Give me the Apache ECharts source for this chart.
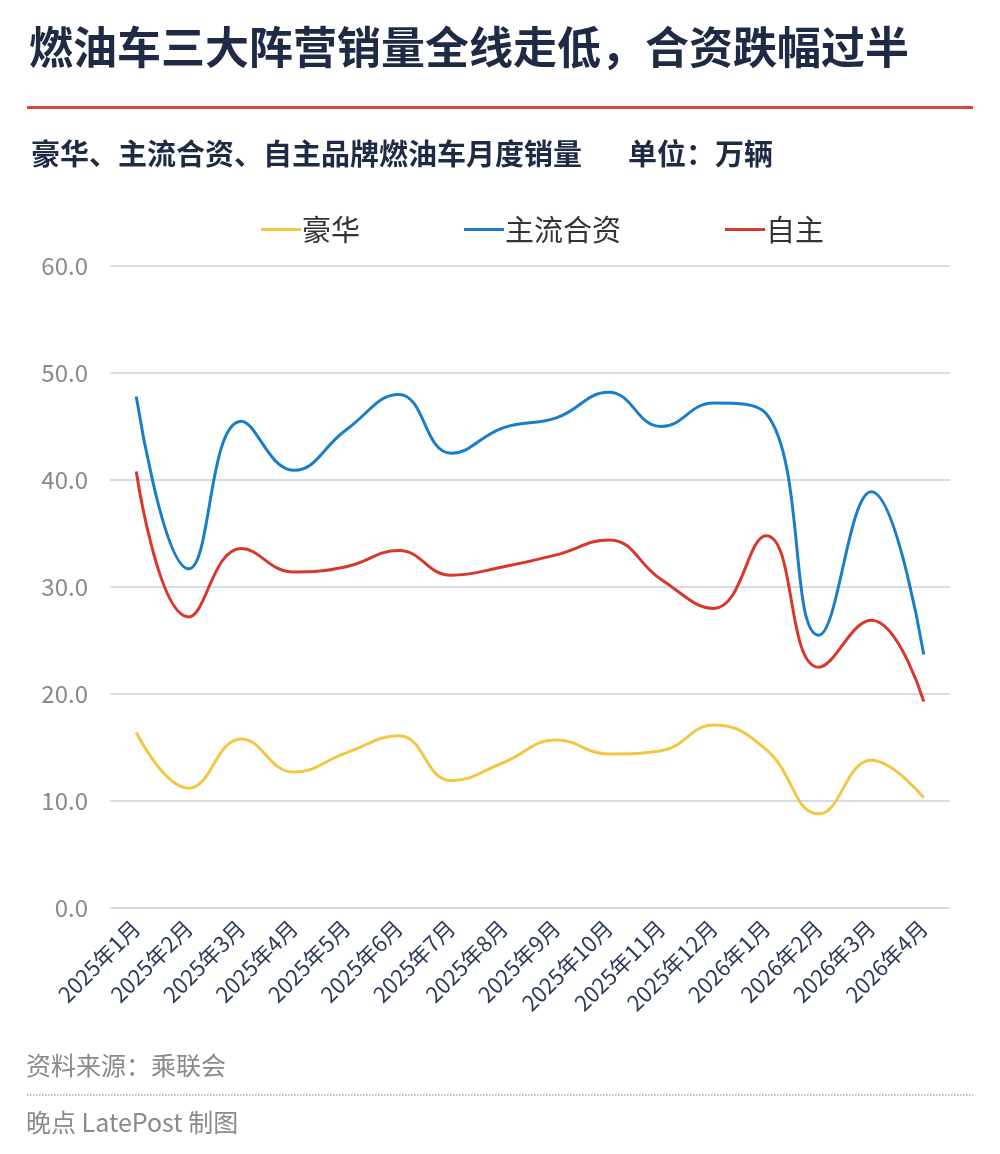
<!DOCTYPE html>
<html>
<head>
<meta charset="utf-8">
<script src="https://cdn.jsdelivr.net/npm/echarts@6/dist/echarts.min.js"></script>
<style>
  html, body { margin: 0; padding: 0; background: #fff; }
  #chart { width: 1000px; height: 1154px; }
</style>
</head>
<body>
<div id="chart"></div>
<script>
// 月份
const months = [
    '2025年1月', '2025年2月', '2025年3月', '2025年4月', '2025年5月', '2025年6月',
    '2025年7月', '2025年8月', '2025年9月', '2025年10月', '2025年11月', '2025年12月',
    '2026年1月', '2026年2月', '2026年3月', '2026年4月'
];

// 销量，单位：万辆
const luxury = [16.4, 11.2, 15.8, 12.7, 14.5, 16.1, 11.9, 13.6, 15.7, 14.4, 14.7, 17.1, 14.8, 8.8, 13.8, 10.3];
const jointVenture = [47.8, 31.7, 45.5, 40.9, 44.7, 48.0, 42.5, 44.9, 45.8, 48.2, 45.0, 47.2, 46.2, 25.5, 38.9, 23.7];
const domestic = [40.8, 27.2, 33.6, 31.4, 31.9, 33.4, 31.1, 31.9, 33.0, 34.4, 30.7, 28.0, 34.8, 22.5, 26.9, 19.3];

const FONT = '"Noto Sans CJK SC", "Noto Sans", sans-serif';
const NAVY = '#1f2a44';

const chart = echarts.init(document.getElementById('chart'));

const lineSeries = (name, data, color) => ({
    name: name,
    type: 'line',
    data: data,
    smooth: 0.45,
    symbol: 'none',
    lineStyle: { color: color, width: 3 },
    itemStyle: { color: color }
});

chart.setOption({
    backgroundColor: '#fff',
    textStyle: { fontFamily: FONT },
    title: [
        {
            text: '燃油车三大阵营销量全线走低，合资跌幅过半',
            left: 24,
            top: 20,
            textStyle: { fontFamily: FONT, fontSize: 44, fontWeight: 'bold', color: NAVY }
        },
        {
            text: '豪华、主流合资、自主品牌燃油车月度销量',
            left: 26,
            top: 134,
            textStyle: { fontFamily: FONT, fontSize: 29, fontWeight: 'bold', color: NAVY }
        },
        {
            text: '单位：万辆',
            left: 623,
            top: 134,
            textStyle: { fontFamily: FONT, fontSize: 29, fontWeight: 'bold', color: NAVY }
        }
    ],
    legend: {
        top: 210,
        left: 256,
        itemGap: 104,
        itemWidth: 40,
        itemHeight: 3,
        icon: 'rect',
        textStyle: { fontFamily: FONT, fontSize: 29, color: '#333', padding: [0, 0, 0, -4] },
        data: ['豪华', '主流合资', '自主']
    },
    grid: {
        left: 110,
        right: 50,
        top: 266,
        bottom: 246
    },
    xAxis: {
        type: 'category',
        data: months,
        boundaryGap: true,
        axisLine: { show: false },
        axisTick: { show: false },
        axisLabel: {
            rotate: 45,
            interval: 0,
            margin: 16,
            fontFamily: FONT,
            fontSize: 22,
            color: '#2d3a5a'
        }
    },
    yAxis: {
        type: 'value',
        min: 0,
        max: 60,
        interval: 10,
        axisLine: { show: false },
        axisTick: { show: false },
        axisLabel: {
            margin: 22,
            fontFamily: FONT,
            fontSize: 24,
            color: '#8a8a8a',
            formatter: v => v.toFixed(1)
        },
        splitLine: { lineStyle: { color: '#d9dbe6', width: 2 } }
    },
    series: [
        lineSeries('豪华', luxury, '#f2c744'),
        lineSeries('主流合资', jointVenture, '#1a7dc8'),
        lineSeries('自主', domestic, '#d8382b')
    ],
    graphic: [
        {
            type: 'rect',
            shape: { x: 27, y: 106, width: 946, height: 3 },
            style: { fill: '#d9453a' }
        },
        {
            type: 'text',
            left: 26,
            top: 1053,
            style: { text: '资料来源：乘联会', font: '25px ' + FONT, fill: '#8a8a8a' }
        },
        {
            type: 'line',
            shape: { x1: 27, y1: 1095, x2: 973, y2: 1095 },
            style: { stroke: '#aaa', lineWidth: 1.5, lineDash: [1.5, 1.5] }
        },
        {
            type: 'text',
            left: 26,
            top: 1110,
            style: { text: '晚点 LatePost 制图', font: '25px ' + FONT, fill: '#8a8a8a' }
        }
    ],
    animation: false
});
</script>
</body>
</html>
